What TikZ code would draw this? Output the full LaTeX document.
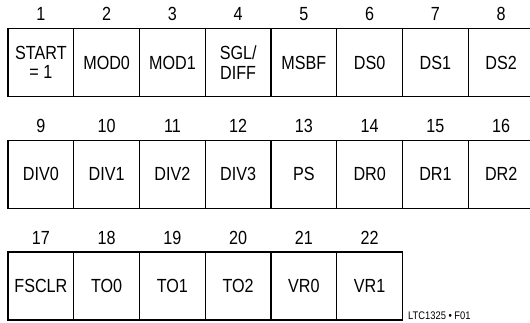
\documentclass[tikz,border=0pt]{standalone}
\usepackage{fontspec}
\setmainfont{Liberation Sans}[FakeStretch=0.85]
\usetikzlibrary{positioning}
\begin{document}
\begin{tikzpicture}[x=1pt, y=-1pt,
  every node/.style={font=\fontsize{19}{19.5}\selectfont},
  cell/.style={draw, line width=1.2pt, outer sep=0pt, inner sep=0pt, minimum width=65.75pt, minimum height=68pt, align=center},
  num/.style={label distance=7.5pt, inner sep=0pt}]
  \useasboundingbox (0,0) rectangle (530,323);
  % first row
  \node[cell,label={[num]above:1}] (b1) at (40.9,62.5) {START\\= 1};
  \node[cell,label={[num]above:2},right=0pt of b1] (b2) {MOD0};
  \node[cell,label={[num]above:3},right=0pt of b2] (b3) {MOD1};
  \node[cell,label={[num]above:4},right=0pt of b3] (b4) {SGL/\\DIFF};
  \node[cell,label={[num]above:5},right=0pt of b4] (b5) {MSBF};
  \node[cell,label={[num]above:6},right=0pt of b5] (b6) {DS0};
  \node[cell,label={[num]above:7},right=0pt of b6] (b7) {DS1};
  \node[cell,label={[num]above:8},right=0pt of b7] (b8) {DS2};
  % second row
  \node[cell,label={[num]above:9},below=43.7pt of b1] (b9) {DIV0};
  \node[cell,label={[num]above:10},right=0pt of b9] (b10) {DIV1};
  \node[cell,label={[num]above:11},right=0pt of b10] (b11) {DIV2};
  \node[cell,label={[num]above:12},right=0pt of b11] (b12) {DIV3};
  \node[cell,label={[num]above:13},right=0pt of b12] (b13) {PS};
  \node[cell,label={[num]above:14},right=0pt of b13] (b14) {DR0};
  \node[cell,label={[num]above:15},right=0pt of b14] (b15) {DR1};
  \node[cell,label={[num]above:16},right=0pt of b15] (b16) {DR2};
  % third row
  \node[cell,label={[num]above:17},below=43.7pt of b9] (b17) {FSCLR};
  \node[cell,label={[num]above:18},right=0pt of b17] (b18) {TO0};
  \node[cell,label={[num]above:19},right=0pt of b18] (b19) {TO1};
  \node[cell,label={[num]above:20},right=0pt of b19] (b20) {TO2};
  \node[cell,label={[num]above:21},right=0pt of b20] (b21) {VR0};
  \node[cell,label={[num]above:22},right=0pt of b21] (b22) {VR1};
  % figure tag
  \node[font=\fontsize{11}{12}\selectfont, inner sep=0pt, anchor=base west] (tag) at ([xshift=5.5pt]b22.south east) {LTC1325 • F01};
\end{tikzpicture}
\end{document}
